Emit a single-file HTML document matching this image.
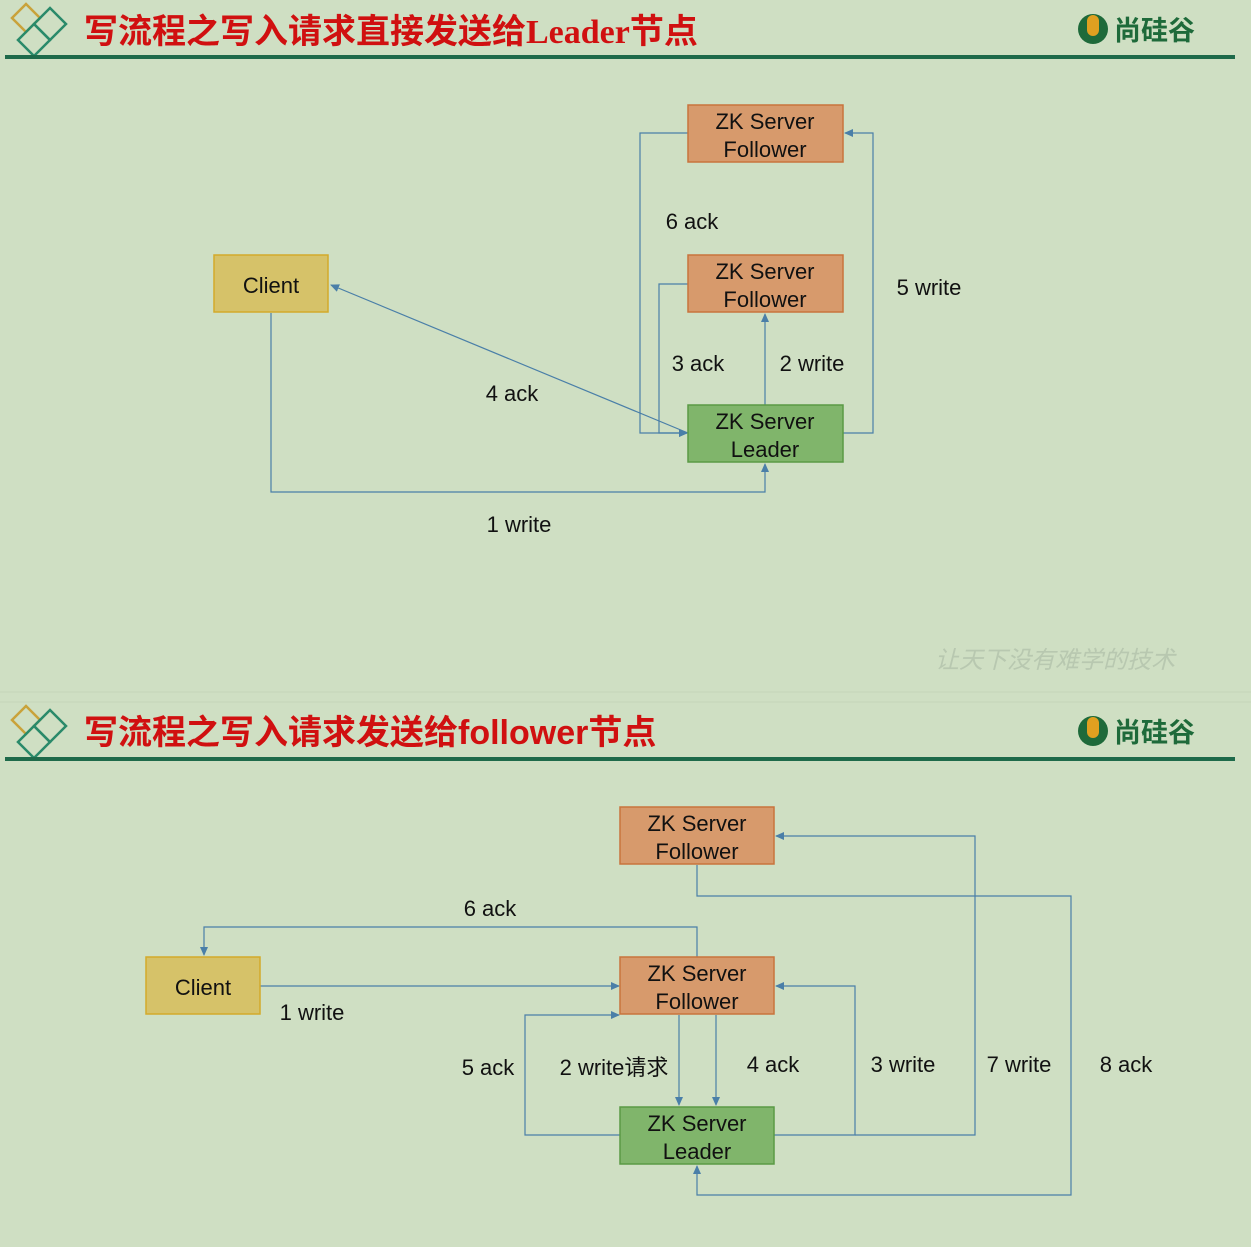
<!DOCTYPE html>
<html><head><meta charset="utf-8"><style>
html,body{margin:0;padding:0;background:#cfdfc3;}
svg{display:block}
text{font-family:"Liberation Sans","Noto Sans CJK SC",sans-serif;}
</style></head><body>
<svg width="1251" height="1247" viewBox="0 0 1251 1247" xmlns="http://www.w3.org/2000/svg">
<defs>
<marker id="a" markerWidth="10" markerHeight="10" refX="8" refY="4" orient="auto" markerUnits="userSpaceOnUse">
<path d="M0,0 L9,4 L0,8 z" fill="#4a7fa8"/></marker>
<g id="dia">
<path d="M26,4 L40,18 L26,32 L12,18 Z" fill="none" stroke="#c9a23a" stroke-width="2.5"/>
<path d="M50,8 L66,24 L50,40 L34,24 Z" fill="none" stroke="#2a8a6a" stroke-width="2.5"/>
<path d="M34,24 L50,40 L34,56 L18,40 Z" fill="none" stroke="#2a8a6a" stroke-width="2.5"/>
</g>
</defs>
<rect width="1251" height="1247" fill="#cfdfc3"/>
<g>
<use href="#dia"/>
<text x="84" y="43" font-size="34" font-weight="bold" fill="#d01010">写流程之写入请求直接发送给<tspan font-family="Liberation Serif">Leader</tspan>节点</text>
<circle cx="1093" cy="29" r="15" fill="#1e6a3a"/><rect x="1087" y="15" width="12" height="21" rx="6" fill="#e0a020"/>
<text x="1114" y="40" font-size="27" font-weight="bold" fill="#1e6a3a">尚硅谷</text>
<rect x="5" y="55" width="1230" height="4" fill="#1e6a4a"/>
</g>
<text x="935" y="668" font-size="24" fill="#b8c8b0" font-style="italic" font-family="'Liberation Serif','Noto Serif CJK SC',serif">让天下没有难学的技术</text>
<line x1="0" y1="692" x2="1251" y2="692" stroke="#c4d4b8"/>
<line x1="0" y1="702" x2="1251" y2="702" stroke="#c4d4b8"/>
<g transform="translate(0,702)">
<use href="#dia"/>
<text x="84" y="42" font-size="34" font-weight="bold" fill="#d01010">写流程之写入请求发送给follower节点</text>
<circle cx="1093" cy="29" r="15" fill="#1e6a3a"/><rect x="1087" y="15" width="12" height="21" rx="6" fill="#e0a020"/>
<text x="1114" y="40" font-size="27" font-weight="bold" fill="#1e6a3a">尚硅谷</text>
<rect x="5" y="55" width="1230" height="4" fill="#1e6a4a"/>
</g>

<g fill="none" stroke="#4a7fa8" stroke-width="1.2">
<path d="M271,313 V492 H765 V464" marker-end="url(#a)"/>
<path d="M688,433 L331,285" marker-end="url(#a)"/>
<path d="M688,133 H640 V433 H687" marker-end="url(#a)"/>
<path d="M688,284 H659 V433 H687" marker-end="url(#a)"/>
<path d="M765,405 V314" marker-end="url(#a)"/>
<path d="M843,433 H873 V133 H845" marker-end="url(#a)"/>
<path d="M260,986 H619" marker-end="url(#a)"/>
<path d="M697,957 V927 H204 V955" marker-end="url(#a)"/>
<path d="M679,1015 V1105" marker-end="url(#a)"/>
<path d="M716,1015 V1105" marker-end="url(#a)"/>
<path d="M620,1135 H525 V1015 H619" marker-end="url(#a)"/>
<path d="M774,1135 H855 V986 H776" marker-end="url(#a)"/>
<path d="M855,1135 H975 V836 H776" marker-end="url(#a)"/>
<path d="M697,865 V896 H1071 V1195 H697 V1166" marker-end="url(#a)"/>
</g>

<g font-size="22" text-anchor="middle" fill="#111">
<rect x="688" y="105" width="155" height="57" fill="#d79a6c" stroke="#c8743c" stroke-width="1.5"/>
<text x="765" y="129">ZK Server</text><text x="765" y="157">Follower</text>
<rect x="688" y="255" width="155" height="57" fill="#d79a6c" stroke="#c8743c" stroke-width="1.5"/>
<text x="765" y="279">ZK Server</text><text x="765" y="307">Follower</text>
<rect x="688" y="405" width="155" height="57" fill="#80b56b" stroke="#5a9a45" stroke-width="1.5"/>
<text x="765" y="429">ZK Server</text><text x="765" y="457">Leader</text>
<rect x="214" y="255" width="114" height="57" fill="#d6c269" stroke="#d4aa2a" stroke-width="1.5"/>
<text x="271" y="293">Client</text>
<text x="692" y="229">6 ack</text>
<text x="929" y="295">5 write</text>
<text x="698" y="371">3 ack</text>
<text x="812" y="371">2 write</text>
<text x="512" y="401">4 ack</text>
<text x="519" y="532">1 write</text>
<rect x="620" y="807" width="154" height="57" fill="#d79a6c" stroke="#c8743c" stroke-width="1.5"/>
<text x="697" y="831">ZK Server</text><text x="697" y="859">Follower</text>
<rect x="620" y="957" width="154" height="57" fill="#d79a6c" stroke="#c8743c" stroke-width="1.5"/>
<text x="697" y="981">ZK Server</text><text x="697" y="1009">Follower</text>
<rect x="620" y="1107" width="154" height="57" fill="#80b56b" stroke="#5a9a45" stroke-width="1.5"/>
<text x="697" y="1131">ZK Server</text><text x="697" y="1159">Leader</text>
<rect x="146" y="957" width="114" height="57" fill="#d6c269" stroke="#d4aa2a" stroke-width="1.5"/>
<text x="203" y="995">Client</text>
<text x="490" y="916">6 ack</text>
<text x="312" y="1020">1 write</text>
<text x="488" y="1075">5 ack</text>
<text x="614" y="1075">2 write请求</text>
<text x="773" y="1072">4 ack</text>
<text x="903" y="1072">3 write</text>
<text x="1019" y="1072">7 write</text>
<text x="1126" y="1072">8 ack</text>
</g>
</svg>
</body></html>
